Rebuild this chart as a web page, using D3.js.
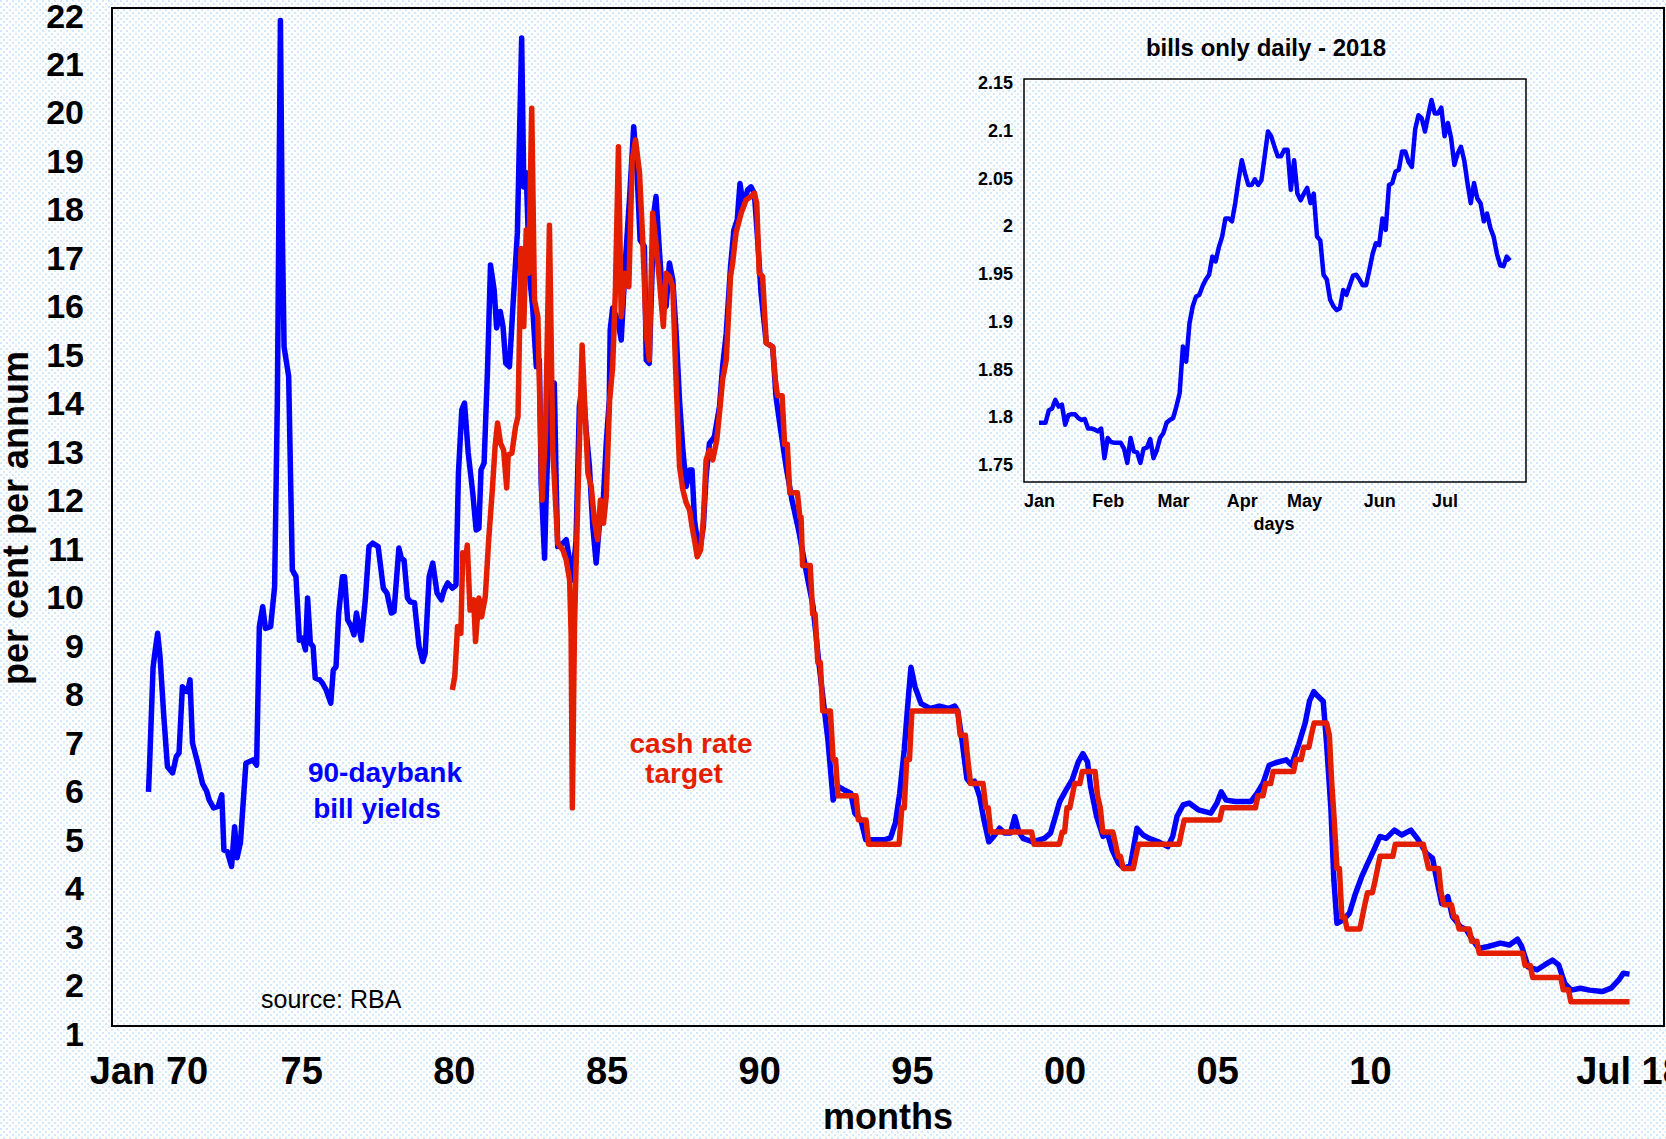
<!DOCTYPE html>
<meta charset="utf-8">
<style>
body { margin: 0; background: #fff; }
svg { display: block; font-family: "Liberation Sans", Arial, sans-serif; }
.axis path { display: none; }
.axis text { fill: #000; font-weight: bold; }
</style>
<svg width="1666" height="1139"></svg>
<script src="https://d3js.org/d3.v7.min.js"></script>
<script>

// 90-day bank bill yields, monthly, [decimal year, per cent]
var billYields = [
  [1970.00, 5.83], [1970.03, 6.3], [1970.15, 8.4], [1970.23, 8.8], [1970.30, 9.1], [1970.38, 8.6],
  [1970.50, 7.4], [1970.62, 6.35], [1970.79, 6.22], [1970.91, 6.56], [1971.00, 6.63], [1971.11, 8.0],
  [1971.20, 7.93], [1971.28, 7.9], [1971.36, 8.14], [1971.44, 6.84], [1971.61, 6.43], [1971.77, 6.0],
  [1971.90, 5.85], [1971.99, 5.66], [1972.13, 5.5], [1972.28, 5.53], [1972.40, 5.77], [1972.47, 4.63],
  [1972.58, 4.6], [1972.72, 4.29], [1972.82, 5.11], [1972.90, 4.47], [1973.01, 4.78], [1973.10, 5.6],
  [1973.19, 6.42], [1973.42, 6.49], [1973.54, 6.38], [1973.63, 9.24], [1973.74, 9.65], [1973.83, 9.2],
  [1974.00, 9.24], [1974.13, 10.06], [1974.22, 13.9], [1974.32, 21.74], [1974.38, 17.5], [1974.44, 15.01],
  [1974.59, 14.4], [1974.71, 10.41], [1974.83, 10.27], [1974.94, 8.96], [1975.04, 9.0], [1975.14, 8.76],
  [1975.21, 9.83], [1975.30, 8.9], [1975.39, 8.83], [1975.46, 8.18], [1975.61, 8.14], [1975.70, 8.07],
  [1975.82, 7.93], [1975.97, 7.66], [1976.05, 8.34], [1976.14, 8.41], [1976.23, 9.52], [1976.35, 10.27],
  [1976.42, 10.27], [1976.52, 9.38], [1976.64, 9.24], [1976.73, 9.07], [1976.81, 9.52], [1976.97, 8.96],
  [1977.10, 9.79], [1977.22, 10.89], [1977.34, 10.96], [1977.52, 10.89], [1977.69, 10.03], [1977.81, 9.93],
  [1977.95, 9.52], [1978.04, 9.55], [1978.20, 10.86], [1978.28, 10.65], [1978.37, 10.61], [1978.48, 9.83],
  [1978.57, 9.75], [1978.71, 9.73], [1978.86, 8.83], [1978.98, 8.52], [1979.06, 8.69], [1979.19, 10.27],
  [1979.31, 10.55], [1979.45, 9.93], [1979.59, 9.79], [1979.68, 9.99], [1979.80, 10.14], [1979.95, 10.03],
  [1980.07, 10.1], [1980.15, 12.41], [1980.26, 13.71], [1980.35, 13.85], [1980.47, 12.82], [1980.62, 11.99],
  [1980.73, 11.23], [1980.82, 11.27], [1980.89, 12.47], [1980.99, 12.61], [1981.10, 14.5], [1981.20, 16.7],
  [1981.32, 16.18], [1981.40, 15.4], [1981.52, 15.74], [1981.61, 15.43], [1981.70, 14.67], [1981.82, 14.6],
  [1981.96, 16.12], [1982.08, 17.36], [1982.22, 21.38], [1982.29, 18.31], [1982.37, 18.6], [1982.48, 16.46],
  [1982.58, 15.84], [1982.70, 14.6], [1982.80, 14.74], [1982.86, 12.2], [1982.97, 10.65], [1983.02, 11.85],
  [1983.15, 14.2], [1983.29, 14.26], [1983.35, 12.2], [1983.40, 10.89], [1983.57, 10.96], [1983.68, 11.03],
  [1983.79, 10.61], [1983.88, 10.2], [1984.00, 11.0], [1984.11, 13.78], [1984.22, 14.26], [1984.33, 13.3],
  [1984.44, 12.54], [1984.55, 11.3], [1984.66, 10.55], [1984.77, 11.37], [1984.90, 11.92], [1984.99, 13.02],
  [1985.09, 13.91], [1985.12, 15.36], [1985.20, 15.81], [1985.37, 15.56], [1985.48, 15.15], [1985.62, 16.8],
  [1985.75, 18.04], [1985.89, 19.55], [1985.99, 18.73], [1986.10, 17.21], [1986.24, 17.08], [1986.30, 14.74],
  [1986.40, 14.67], [1986.55, 17.77], [1986.62, 18.11], [1986.73, 17.0], [1986.84, 15.98], [1986.95, 15.84],
  [1987.06, 16.74], [1987.17, 16.39], [1987.28, 15.29], [1987.39, 13.9], [1987.50, 12.88], [1987.61, 12.13],
  [1987.72, 12.47], [1987.80, 12.47], [1987.88, 11.44], [1987.97, 11.03], [1988.07, 10.89], [1988.17, 11.3],
  [1988.26, 12.33], [1988.37, 13.02], [1988.53, 13.15], [1988.70, 13.78], [1988.80, 14.6], [1988.92, 15.29],
  [1989.06, 16.66], [1989.17, 17.42], [1989.28, 17.63], [1989.37, 18.38], [1989.48, 17.9], [1989.62, 18.25],
  [1989.73, 18.31], [1989.84, 18.18], [1989.95, 17.21], [1990.06, 16.12], [1990.23, 15.09], [1990.44, 15.01],
  [1990.55, 13.98], [1990.70, 13.3], [1990.89, 12.5], [1991.07, 11.86], [1991.30, 11.2], [1991.52, 10.44],
  [1991.76, 9.67], [1991.94, 8.57], [1992.10, 7.7], [1992.25, 6.9], [1992.42, 5.66], [1992.58, 5.94],
  [1992.78, 5.87], [1993.00, 5.8], [1993.13, 5.39], [1993.33, 5.25], [1993.49, 4.84], [1994.09, 4.84],
  [1994.30, 4.88], [1994.46, 5.19], [1994.60, 5.8], [1994.75, 6.7], [1994.90, 7.9], [1994.97, 8.4],
  [1995.10, 8.0], [1995.30, 7.65], [1995.60, 7.55], [1995.90, 7.6], [1996.20, 7.55], [1996.40, 7.6],
  [1996.50, 7.5], [1996.64, 6.9], [1996.80, 6.1], [1996.92, 6.01], [1997.05, 6.05], [1997.22, 5.73],
  [1997.36, 5.25], [1997.52, 4.8], [1997.68, 4.91], [1997.87, 5.08], [1998.03, 4.98], [1998.23, 4.98],
  [1998.37, 5.32], [1998.50, 5.01], [1998.64, 4.87], [1998.94, 4.8], [1999.34, 4.87], [1999.54, 4.98],
  [1999.70, 5.32], [1999.84, 5.63], [2000.05, 5.87], [2000.25, 6.08], [2000.45, 6.45], [2000.60, 6.62],
  [2000.75, 6.45], [2000.85, 5.94], [2001.05, 5.32], [2001.26, 4.91], [2001.40, 4.98], [2001.56, 4.63],
  [2001.76, 4.36], [2001.96, 4.25], [2002.16, 4.32], [2002.37, 5.08], [2002.57, 4.94], [2002.77, 4.87],
  [2003.07, 4.8], [2003.38, 4.7], [2003.54, 4.91], [2003.68, 5.32], [2003.88, 5.56], [2004.08, 5.6],
  [2004.38, 5.46], [2004.79, 5.39], [2004.99, 5.6], [2005.13, 5.83], [2005.29, 5.66], [2005.59, 5.63],
  [2006.10, 5.63], [2006.30, 5.8], [2006.50, 6.01], [2006.70, 6.38], [2006.91, 6.43], [2007.26, 6.49],
  [2007.43, 6.38], [2007.67, 6.82], [2007.88, 7.25], [2008.02, 7.7], [2008.16, 7.9], [2008.30, 7.8],
  [2008.47, 7.7], [2008.58, 6.82], [2008.72, 5.5], [2008.82, 4.0], [2008.92, 3.12], [2009.13, 3.19],
  [2009.33, 3.33], [2009.53, 3.74], [2009.73, 4.08], [2009.93, 4.36], [2010.13, 4.63], [2010.33, 4.91],
  [2010.53, 4.87], [2010.80, 5.04], [2011.04, 4.94], [2011.34, 5.04], [2011.55, 4.87], [2011.85, 4.56],
  [2012.05, 4.46], [2012.19, 4.01], [2012.35, 3.53], [2012.55, 3.67], [2012.70, 3.26], [2012.96, 3.05],
  [2013.16, 2.98], [2013.36, 2.78], [2013.56, 2.6], [2013.87, 2.64], [2014.27, 2.71], [2014.57, 2.67],
  [2014.83, 2.79], [2014.97, 2.64], [2015.18, 2.22], [2015.48, 2.16], [2015.72, 2.26], [2015.98, 2.36],
  [2016.18, 2.26], [2016.38, 1.88], [2016.59, 1.74], [2016.89, 1.78], [2017.19, 1.74], [2017.60, 1.71],
  [2017.90, 1.78], [2018.15, 1.95], [2018.30, 2.09], [2018.50, 2.07]
];

// cash rate (target), monthly, [decimal year, per cent]
var cashRate = [
  [1979.95, 7.93], [1980.03, 8.21], [1980.12, 9.24], [1980.23, 9.1], [1980.29, 10.76], [1980.38, 10.61],
  [1980.44, 10.92], [1980.53, 9.58], [1980.65, 9.79], [1980.71, 8.93], [1980.82, 9.83], [1980.91, 9.44],
  [1981.03, 9.86], [1981.14, 11.03], [1981.26, 12.06], [1981.35, 12.95], [1981.43, 13.44], [1981.53, 13.02],
  [1981.63, 12.88], [1981.73, 12.1], [1981.78, 12.78], [1981.90, 12.82], [1982.02, 13.36], [1982.10, 13.57],
  [1982.20, 17.04], [1982.29, 15.43], [1982.37, 17.42], [1982.45, 16.53], [1982.55, 19.93], [1982.64, 15.98],
  [1982.75, 15.63], [1982.89, 11.85], [1983.00, 13.23], [1983.13, 17.52], [1983.24, 12.88], [1983.40, 10.96],
  [1983.57, 10.82], [1983.68, 10.61], [1983.79, 10.2], [1983.84, 9.1], [1983.88, 5.5], [1983.95, 9.24],
  [1984.06, 11.85], [1984.20, 15.05], [1984.28, 13.9], [1984.39, 12.4], [1984.50, 12.13], [1984.60, 11.44],
  [1984.71, 11.03], [1984.80, 11.85], [1984.90, 11.37], [1984.99, 11.92], [1985.10, 13.9], [1985.20, 14.6],
  [1985.29, 16.18], [1985.39, 19.14], [1985.48, 15.63], [1985.59, 16.53], [1985.73, 16.25], [1985.84, 18.86],
  [1985.95, 19.28], [1986.08, 18.6], [1986.19, 17.15], [1986.30, 15.29], [1986.40, 14.74], [1986.51, 17.77],
  [1986.62, 17.15], [1986.73, 16.39], [1986.86, 15.43], [1986.95, 16.53], [1987.06, 16.46], [1987.17, 16.25],
  [1987.26, 14.6], [1987.39, 12.54], [1987.50, 12.06], [1987.61, 11.79], [1987.72, 11.64], [1987.80, 11.3],
  [1987.88, 11.03], [1987.97, 10.68], [1988.08, 10.82], [1988.17, 11.44], [1988.26, 12.68], [1988.37, 12.88],
  [1988.48, 12.68], [1988.61, 13.09], [1988.72, 13.78], [1988.80, 14.33], [1988.92, 14.74], [1989.06, 16.46],
  [1989.13, 16.74], [1989.24, 17.36], [1989.41, 17.77], [1989.57, 18.04], [1989.73, 18.11], [1989.84, 18.18],
  [1989.92, 17.97], [1990.00, 16.53], [1990.11, 16.46], [1990.23, 15.09], [1990.44, 15.01], [1990.53, 14.33],
  [1990.60, 14.0], [1990.75, 14.0], [1990.83, 13.0], [1990.92, 13.0], [1991.00, 12.0], [1991.25, 12.0],
  [1991.33, 11.5], [1991.37, 11.5], [1991.42, 10.5], [1991.67, 10.5], [1991.75, 9.5], [1991.83, 9.5],
  [1991.92, 8.5], [1992.00, 8.5], [1992.08, 7.5], [1992.33, 7.5], [1992.42, 6.5], [1992.50, 6.5],
  [1992.58, 5.75], [1993.17, 5.75], [1993.25, 5.25], [1993.50, 5.25], [1993.58, 4.75], [1994.58, 4.75],
  [1994.67, 5.5], [1994.75, 5.5], [1994.83, 6.5], [1994.92, 6.5], [1995.00, 7.5], [1996.50, 7.5],
  [1996.58, 7.0], [1996.75, 7.0], [1996.83, 6.5], [1996.92, 6.0], [1997.33, 6.0], [1997.42, 5.5],
  [1997.50, 5.5], [1997.58, 5.0], [1998.92, 5.0], [1999.00, 4.75], [1999.83, 4.75], [1999.92, 5.0],
  [2000.00, 5.0], [2000.08, 5.5], [2000.17, 5.5], [2000.25, 5.75], [2000.33, 6.0], [2000.50, 6.0],
  [2000.58, 6.25], [2001.00, 6.25], [2001.08, 5.75], [2001.17, 5.5], [2001.25, 5.0], [2001.58, 5.0],
  [2001.67, 4.75], [2001.75, 4.5], [2001.83, 4.5], [2001.92, 4.25], [2002.25, 4.25], [2002.33, 4.5],
  [2002.42, 4.75], [2003.75, 4.75], [2003.83, 5.0], [2003.92, 5.25], [2005.08, 5.25], [2005.17, 5.5],
  [2006.25, 5.5], [2006.33, 5.75], [2006.50, 5.75], [2006.58, 6.0], [2006.75, 6.0], [2006.83, 6.25],
  [2007.50, 6.25], [2007.58, 6.5], [2007.75, 6.5], [2007.83, 6.75], [2008.00, 6.75], [2008.08, 7.0],
  [2008.17, 7.25], [2008.58, 7.25], [2008.67, 7.0], [2008.75, 6.0], [2008.83, 5.25], [2008.92, 4.25],
  [2009.00, 4.25], [2009.08, 3.25], [2009.17, 3.25], [2009.25, 3.0], [2009.67, 3.0], [2009.75, 3.25],
  [2009.83, 3.5], [2009.92, 3.75], [2010.08, 3.75], [2010.17, 4.0], [2010.25, 4.25], [2010.33, 4.5],
  [2010.75, 4.5], [2010.83, 4.75], [2011.75, 4.75], [2011.83, 4.5], [2011.92, 4.25], [2012.25, 4.25],
  [2012.33, 3.75], [2012.42, 3.5], [2012.67, 3.5], [2012.75, 3.25], [2012.83, 3.25], [2012.92, 3.0],
  [2013.25, 3.0], [2013.33, 2.75], [2013.50, 2.75], [2013.58, 2.5], [2015.00, 2.5], [2015.08, 2.25],
  [2015.25, 2.25], [2015.33, 2.0], [2016.25, 2.0], [2016.33, 1.75], [2016.50, 1.75], [2016.58, 1.5],
  [2018.50, 1.5]
];

var xTickYears = [1970, 1975, 1980, 1985, 1990, 1995, 2000, 2005, 2010, 2018.5];
var xTickLabels = ["Jan 70", "75", "80", "85", "90", "95", "00", "05", "10", "Jul 18"];
var yTicks = [1, 2, 3, 4, 5, 6, 7, 8, 9, 10, 11, 12, 13, 14, 15, 16, 17, 18, 19, 20, 21, 22];

// inset: bank bills, daily (business days) 2018
var daily2018 = [
  1.790, 1.790, 1.790, 1.803, 1.805, 1.814, 1.807, 1.809, 1.788, 1.798,
  1.799, 1.799, 1.795, 1.793, 1.794, 1.784, 1.784, 1.783, 1.781, 1.784,
  1.753, 1.774, 1.770, 1.769, 1.769, 1.769, 1.763, 1.748, 1.774, 1.760,
  1.759, 1.748, 1.763, 1.764, 1.773, 1.753, 1.761, 1.774, 1.779, 1.790,
  1.793, 1.795, 1.807, 1.821, 1.870, 1.854, 1.894, 1.912, 1.922, 1.924,
  1.933, 1.940, 1.945, 1.964, 1.959, 1.974, 1.985, 2.004, 2.004, 2.001,
  2.020, 2.044, 2.065, 2.051, 2.039, 2.039, 2.045, 2.039, 2.044, 2.069,
  2.095, 2.090, 2.079, 2.069, 2.069, 2.076, 2.076, 2.034, 2.065, 2.030,
  2.023, 2.030, 2.036, 2.020, 2.030, 1.985, 1.981, 1.945, 1.940, 1.919,
  1.912, 1.908, 1.910, 1.929, 1.924, 1.934, 1.944, 1.945, 1.940, 1.934,
  1.934, 1.950, 1.967, 1.978, 1.976, 2.004, 1.992, 2.039, 2.041, 2.053,
  2.055, 2.074, 2.074, 2.063, 2.058, 2.097, 2.112, 2.109, 2.095, 2.112,
  2.128, 2.114, 2.114, 2.120, 2.090, 2.104, 2.088, 2.060, 2.072, 2.079,
  2.065, 2.041, 2.020, 2.041, 2.025, 2.020, 2.001, 2.009, 1.994, 1.985,
  1.967, 1.955, 1.954, 1.964, 1.960
];
var monthStarts = [0, 21, 41, 62, 81, 104, 124];
var monthLabels = ["Jan", "Feb", "Mar", "Apr", "May", "Jun", "Jul"];
var dailyTicks = [1.75, 1.8, 1.85, 1.9, 1.95, 2, 2.05, 2.1, 2.15];

var blue = "#0000ff",
    red = "#e41e00";

var svg = d3.select("svg");

// light blue dotted background
var pat = svg.append("defs").append("pattern")
    .attr("id", "dots")
    .attr("patternUnits", "userSpaceOnUse")
    .attr("width", 6)
    .attr("height", 6);
pat.append("rect").attr("width", 6).attr("height", 6).attr("fill", "#fff");
pat.append("rect").attr("width", 2).attr("height", 2).attr("fill", "#d3e8fd");
pat.append("rect").attr("x", 3).attr("y", 3).attr("width", 2).attr("height", 2).attr("fill", "#d3e8fd");

svg.append("rect")
    .attr("width", 1666)
    .attr("height", 1139)
    .attr("fill", "url(#dots)");

// ---- main chart ----
var frame = {left: 112, top: 8, right: 1664, bottom: 1026};

var x = d3.scaleLinear()
    .domain([1970, 2018.5])
    .range([148.5, 1629.5]);

var y = d3.scaleLinear()
    .domain([1, 22])
    .range([frame.bottom, frame.top]);

var line = d3.line()
    .x(function(d) { return x(d[0]); })
    .y(function(d) { return y(d[1]); });

svg.append("path")
    .datum(billYields)
    .attr("fill", "none")
    .attr("stroke", blue)
    .attr("stroke-width", 5.5)
    .attr("stroke-linejoin", "round")
    .attr("d", line);

svg.append("path")
    .datum(cashRate)
    .attr("fill", "none")
    .attr("stroke", red)
    .attr("stroke-width", 5.5)
    .attr("stroke-linejoin", "round")
    .attr("d", line);

svg.append("rect")
    .attr("x", frame.left)
    .attr("y", frame.top)
    .attr("width", frame.right - frame.left)
    .attr("height", frame.bottom - frame.top)
    .attr("fill", "none")
    .attr("stroke", "#000")
    .attr("stroke-width", 2);

var yAxis = svg.append("g")
    .attr("class", "axis")
    .attr("transform", "translate(" + frame.left + ",0)")
    .call(d3.axisLeft(y).tickValues(yTicks).tickSize(0).tickPadding(28).tickFormat(d3.format("d")));
yAxis.selectAll("text")
    .attr("dy", "0.56em")
    .style("font-size", "34px");

var xAxis = svg.append("g")
    .attr("class", "axis")
    .attr("transform", "translate(0," + frame.bottom + ")")
    .call(d3.axisBottom(x).tickValues(xTickYears).tickSize(0).tickPadding(31)
      .tickFormat(function(d, i) { return xTickLabels[i]; }));
xAxis.selectAll("text")
    .style("font-size", "38px");

svg.append("text")
    .attr("x", 888)
    .attr("y", 1129)
    .attr("text-anchor", "middle")
    .style("font", "bold 36px 'Liberation Sans', Arial, sans-serif")
    .text("months");

svg.append("text")
    .attr("transform", "translate(28,518) rotate(-90)")
    .attr("text-anchor", "middle")
    .style("font", "bold 36px 'Liberation Sans', Arial, sans-serif")
    .text("per cent per annum");

// series labels
var notes = [
  {text: "90-daybank", x: 385, y: 782, color: blue},
  {text: "bill yields", x: 377, y: 818, color: blue},
  {text: "cash rate", x: 691, y: 753, color: red},
  {text: "target", x: 684, y: 783, color: red}
];
svg.selectAll(".note")
    .data(notes)
    .enter().append("text")
      .attr("class", "note")
      .attr("x", function(d) { return d.x; })
      .attr("y", function(d) { return d.y; })
      .attr("text-anchor", "middle")
      .attr("fill", function(d) { return d.color; })
      .style("font", "bold 28px 'Liberation Sans', Arial, sans-serif")
      .text(function(d) { return d.text; });

svg.append("text")
    .attr("x", 261)
    .attr("y", 1008)
    .style("font", "25px 'Liberation Sans', Arial, sans-serif")
    .text("source: RBA");

// ---- inset: daily 2018 ----
var inset = {left: 1024, top: 79, right: 1526, bottom: 482};

var xi = d3.scaleLinear()
    .domain([0, 144])
    .range([1039, 1510]);

var yi = d3.scaleLinear()
    .domain([1.75, 2.15])
    .range([461, inset.top]);

svg.append("rect")
    .attr("x", inset.left)
    .attr("y", inset.top)
    .attr("width", inset.right - inset.left)
    .attr("height", inset.bottom - inset.top)
    .attr("fill", "url(#dots)")
    .attr("stroke", "#000")
    .attr("stroke-width", 1.5);

svg.append("path")
    .datum(daily2018)
    .attr("fill", "none")
    .attr("stroke", blue)
    .attr("stroke-width", 4.5)
    .attr("stroke-linejoin", "round")
    .attr("d", d3.line()
      .x(function(d, i) { return xi(i); })
      .y(function(d) { return yi(d); }));

var yiAxis = svg.append("g")
    .attr("class", "axis")
    .attr("transform", "translate(" + inset.left + ",0)")
    .call(d3.axisLeft(yi).tickValues(dailyTicks).tickSize(0).tickPadding(11).tickFormat(d3.format("")));
yiAxis.selectAll("text")
    .attr("dy", "0.53em")
    .style("font-size", "18px");

var xiAxis = svg.append("g")
    .attr("class", "axis")
    .attr("transform", "translate(0," + inset.bottom + ")")
    .call(d3.axisBottom(xi).tickValues(monthStarts).tickSize(0).tickPadding(12)
      .tickFormat(function(d, i) { return monthLabels[i]; }));
xiAxis.selectAll("text")
    .style("font-size", "18px");

svg.append("text")
    .attr("x", 1274)
    .attr("y", 530)
    .attr("text-anchor", "middle")
    .style("font", "bold 18px 'Liberation Sans', Arial, sans-serif")
    .text("days");

svg.append("text")
    .attr("x", 1266)
    .attr("y", 56)
    .attr("text-anchor", "middle")
    .style("font", "bold 24px 'Liberation Sans', Arial, sans-serif")
    .text("bills only daily - 2018");

</script>
